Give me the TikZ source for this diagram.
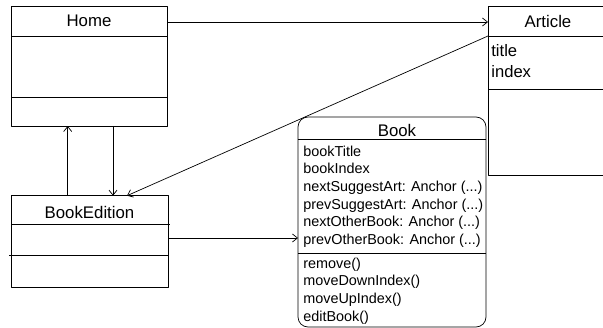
\documentclass[tikz,border=0pt]{standalone}
\usepackage{fontspec}
\setmainfont{Liberation Sans}
\usetikzlibrary{arrows.meta}

\newcommand{\umlhead}{\fontsize{16.8bp}{20bp}\selectfont}
\newcommand{\umlbody}{\fontsize{14.4bp}{17.6bp}\selectfont}
\newcommand{\umlattr}{\fontsize{16.6bp}{21.6bp}\selectfont}

\begin{document}
\begin{tikzpicture}[>={Straight Barb[length=5bp,width=8bp]},line join=bevel,line width=0.7bp,
  classbox/.style={draw,inner sep=0pt,outer sep=0pt},
  headtext/.style={inner sep=0pt,font=\umlhead},
  bodytext/.style={inner sep=0pt,anchor=north west,align=left,font=\umlbody},
  attrtext/.style={inner sep=0pt,anchor=north west,align=left,font=\umlattr}]
%%
\useasboundingbox (0bp,0bp) rectangle (603bp,328bp);
\clip (0bp,0bp) rectangle (603bp,328bp);
\node (node_home) at (89bp,262bp) [classbox,minimum width=156bp,minimum height=120bp] {};
  \node (node_bookedition) at (89.5bp,86.3bp) [classbox,minimum width=157bp,minimum height=92bp] {};
  \node (node_article) at (547bp,237.5bp) [classbox,minimum width=118bp,minimum height=169bp] {};
  \node (node_book) at (392bp,106bp) [classbox,rounded corners=10bp,minimum width=188bp,minimum height=210bp] {};
  \node (home_name) at (89bp,307bp) [headtext] {Home};
  \node (bookedition_name) at (89.5bp,115.7bp) [headtext] {BookEdition};
  \node (article_name) at (548bp,307bp) [headtext] {Article};
  \node (book_name) at (397bp,198bp) [headtext] {Book};
  \node (article_attr) at (491bp,284.2bp) [attrtext] {title\\index};
  \node (book_attr) at (303bp,182.5bp) [bodytext] {bookTitle\\bookIndex\\nextSuggestArt: Anchor (...)\\prevSuggestArt: Anchor (...)\\nextOtherBook: Anchor (...)\\prevOtherBook: Anchor (...)};
  \node (book_ops) at (303bp,70.5bp) [bodytext] {remove()\\moveDownIndex()\\moveUpIndex()\\editBook()};
  \draw ([yshift=-30bp]node_home.north west) -- ([yshift=-30bp]node_home.north east);
  \draw ([yshift=-91bp]node_home.north west) -- ([yshift=-91bp]node_home.north east);
  \draw ([yshift=-28.3bp]node_bookedition.north west) -- ([xshift=2bp,yshift=-28.3bp]node_bookedition.north east);
  \draw ([xshift=-2bp,yshift=-59.6bp]node_bookedition.north west) -- ([yshift=-59.6bp]node_bookedition.north east);
  \draw ([yshift=-30bp]node_article.north west) -- ([yshift=-30bp]node_article.north east);
  \draw ([yshift=-83bp]node_article.north west) -- ([yshift=-83bp]node_article.north east);
  \draw ([yshift=-22bp]node_book.north west) -- ([yshift=-22bp]node_book.north east);
  \draw ([yshift=-136bp]node_book.north west) -- ([yshift=-136bp]node_book.north east);
  \draw [black,->] ([yshift=-16bp]node_home.north east) -- ([yshift=-16bp]node_article.north west);
  \draw [black,->] ([yshift=-30bp]node_article.north west) -- ([xshift=116bp]node_bookedition.north west);
  \draw [black,->] ([xshift=56.7bp]node_bookedition.north west) -- ([xshift=56.7bp]node_home.south west);
  \draw [black,->] ([xshift=102bp]node_home.south west) -- ([xshift=102bp]node_bookedition.north west);
  \draw [black,->] ([yshift=3.7bp]node_bookedition.east) -- ([yshift=-16bp]node_book.west);
%
\end{tikzpicture}
\end{document}
